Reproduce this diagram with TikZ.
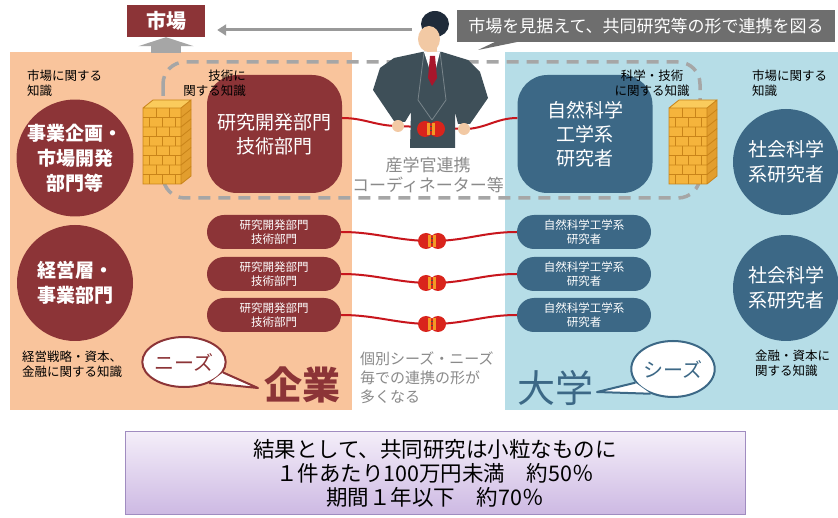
\documentclass[tikz,border=0pt]{standalone}
\usepackage{fontspec}
\setmainfont{Noto Sans CJK JP}
\usetikzlibrary{arrows.meta,shapes.geometric}

\definecolor{dkred}{HTML}{8C3437}
\definecolor{stblue}{HTML}{3C6886}
\definecolor{peach}{HTML}{F9C49C}
\definecolor{skyblue}{HTML}{B6DDE7}
\definecolor{wirered}{HTML}{C8161D}
\definecolor{plugred}{HTML}{D9241C}
\definecolor{plugorange}{HTML}{F39A25}
\definecolor{suit}{HTML}{3E4F58}
\definecolor{hair}{HTML}{1F2B3A}
\definecolor{skin}{HTML}{F2C9A4}
\definecolor{tiered}{HTML}{A8162B}
\definecolor{txtgray}{HTML}{8A8A8A}
\definecolor{sloganbg}{HTML}{6E6E6E}
\definecolor{framegray}{HTML}{A6A6A6}
\definecolor{brick}{HTML}{F5B43C}
\definecolor{bricktop}{HTML}{FACB5C}
\definecolor{brickside}{HTML}{E29E2E}
\definecolor{brickdark}{HTML}{C98419}
\definecolor{lavtop}{HTML}{F4EEF9}
\definecolor{lavbottom}{HTML}{CDB9E3}
\definecolor{lavborder}{HTML}{A08CC0}

% plug pair, centred on the origin
\newcommand{\plug}{%
    \fill[plugred] (-6,0) circle[radius=8pt];
    \fill[plugred] (6,0) circle[radius=8pt];
    \fill[plugorange] (-4,-6) rectangle (-1,6);
    \fill[plugorange] (1,-6) rectangle (4,6);
    \draw[black!70, line width=1pt] (-1,-2) -- (1,-2) (-1,2) -- (1,2);
}

% brick wall, top left corner at the origin
\newcommand{\brickwall}{%
    \fill[bricktop] (0,8) -- (10,0) -- (48,0) -- (38,8) -- cycle;
    \fill[brickside] (38,8) -- (48,0) -- (48,76) -- (38,84) -- cycle;
    \fill[brick] (0,8) rectangle (38,84);
    \foreach \row in {1,...,7}
        \draw[brickdark, line width=0.8pt] (0,8+9.5*\row) -- (38,8+9.5*\row) -- (48,9.5*\row);
    \foreach \row in {0,2,4,6}
        \foreach \col in {13,26}
            \draw[brickdark, line width=0.8pt] (\col,8+9.5*\row) -- (\col,17.5+9.5*\row);
    \foreach \row in {1,3,5,7}
        \foreach \col in {6,19,32}
            \draw[brickdark, line width=0.8pt] (\col,8+9.5*\row) -- (\col,17.5+9.5*\row);
    \draw[brickdark, line width=0.8pt] (0,8) rectangle (38,84)
        (38,8) -- (48,0) -- (48,76) -- (38,84) (0,8) -- (10,0) -- (48,0);
}

\tikzset{
    every node/.style={inner sep=0pt, align=center},
    roundbox/.style={rounded corners=30pt, minimum width=135pt, minimum height=118pt,
        text=white, font=\fontsize{19}{24}\selectfont},
    pill/.style={rounded corners=17pt, minimum width=134pt, minimum height=34pt,
        text=white, font=\fontsize{11.5}{14}\selectfont},
    bigcircle/.style={circle, minimum size=116pt, text=white,
        font=\fontsize{19}{25}\selectfont\bfseries},
    knowledge/.style={font=\fontsize{12.5}{15}\selectfont},
    wire/.style={draw=wirered, line width=2pt},
    bubble/.style={ellipse, fill=white, line width=2pt, font=\fontsize{20}{20}\selectfont},
    dashframe/.style={draw=framegray, line width=3.5pt, dash pattern=on 12pt off 8pt,
        rounded corners=22pt},
}

\begin{document}
\begin{tikzpicture}[x=1pt, y=-1pt]
    \useasboundingbox (0,0) rectangle (838,518);
    \fill[white] (0,0) rectangle (838,518);

    % company and university areas
    \fill[peach] (10,52) rectangle (352,410);
    \fill[skyblue] (505,52) rectangle (838,410);

    % the range that the coordinator links
    \draw[dashframe] (163,62) rectangle (700,198);

    % market box and the arrows towards it
    \node[fill=dkred, text=white, minimum width=78pt, minimum height=32pt,
        font=\fontsize{20}{20}\selectfont\bfseries] (market) at (166,21) {市場};
    \draw[gray!70, line width=30pt, -{Triangle[width=55pt, length=9pt]}]
        (market.south |- 0,53) -- (market.south);
    \coordinate (gaze) at (412,30);
    \draw[gray!80, line width=3pt, -{Triangle[width=11pt, length=9pt]}, shorten >=12pt]
        (gaze) -- (market.east |- gaze);

    % slogan with its tail
    \node[fill=sloganbg, text=white, minimum width=378pt, minimum height=32pt,
        font=\fontsize{17}{17}\selectfont] (slogan) at (646,26)
        {市場を見据えて、共同研究等の形で連携を図る};
    \fill[sloganbg] (497,41) -- (522,41) -- (478,50) -- cycle;

    % walls between the departments
    \begin{scope}[shift={(143,100)}]
        \brickwall
    \end{scope}
    \begin{scope}[shift={(669,100)}]
        \brickwall
    \end{scope}

    % company side
    \node[bigcircle, fill=dkred] (plan) at (75,158) {事業企画・\\市場開発\\部門等};
    \node[bigcircle, fill=dkred] (board) at (75,283) {経営層・\\事業部門};
    \node[roundbox, fill=dkred] (rd) at (274.5,134) {研究開発部門\\技術部門};
    \node[knowledge, anchor=north west, align=left] (mktknow) at (27,70) {市場に関する\\知識};
    \node[knowledge, anchor=north east, align=right] (techknow) at (246,70) {技術に\\関する知識};
    \node[knowledge, anchor=north west, align=left] (finknow) at (22,351) {経営戦略・資本、\\金融に関する知識};

    % university side
    \node[roundbox, fill=stblue] (sci) at (585,134) {自然科学\\工学系\\研究者};
    \node[bigcircle, fill=stblue, minimum size=106pt, font=\fontsize{19}{25}\selectfont]
        (soc1) at (786,162) {社会科学\\系研究者};
    \node[bigcircle, fill=stblue, minimum size=106pt, font=\fontsize{19}{25}\selectfont]
        (soc2) at (786,288) {社会科学\\系研究者};
    \node[knowledge, anchor=north] (sciknow) at (652,70) {科学・技術\\に関する知識};
    \node[knowledge, anchor=north west, align=left] (mktknow2) at (752,70) {市場に関する\\知識};
    \node[knowledge, anchor=north west, align=left] (finknow2) at (755,350) {金融・資本に\\関する知識};

    % coordinator joining the two big groups
    \coordinate (lhand) at (398,126);
    \coordinate (rhand) at (464,129);
    \draw[wire] ([yshift=16pt]rd.east) to[out=0, in=180] (lhand) -- (rhand)
        to[out=0, in=180] ([yshift=16pt]sci.west);
    \fill[suit] (422,52) -- (442,52) -- (468,60) -- (480,72) -- (488,98) -- (470,124)
        -- (458,124) -- (455,112) -- (455,148) -- (410,148) -- (411,112) -- (405,122)
        -- (394,121) -- (373,90) -- (380,68) -- (394,58) -- cycle;
    \draw[suit!70!white, line width=0.8pt] (424,52) -- (418,100) -- (432,120)
        (440,52) -- (446,100) -- (432,120);
    \fill[skin] (427,42) rectangle (437,54);
    \fill[white] (424,52) -- (440,52) -- (433,80) -- cycle;
    \fill[tiered] (430,56) -- (435,56) -- (437,78) -- (432,86) -- (428,78) -- cycle;
    \fill[hair] (435,24) ellipse[x radius=14pt, y radius=13pt];
    \fill[skin] (429,39) ellipse[x radius=11pt, y radius=13pt];
    \fill[skin] (lhand) circle[radius=6pt];
    \fill[skin] (rhand) circle[radius=6pt];
    \begin{scope}[shift={(431,129)}]
        \plug
    \end{scope}
    \node[text=txtgray, font=\fontsize{17}{20}\selectfont] (coord) at (428,175)
        {産学官連携\\コーディネーター等};

    % one small link per seed and need
    \foreach \i/\y in {1/232,2/274,3/315} {
        \node[pill, fill=dkred] (rd\i) at (274,\y) {研究開発部門\\技術部門};
        \node[pill, fill=stblue] (sci\i) at (584,\y) {自然科学工学系\\研究者};
        \coordinate (p\i) at (432,\y+9);
        \draw[wire] (rd\i.east) to[out=0, in=180] (p\i) to[out=0, in=180] (sci\i.west);
        \begin{scope}[shift={(p\i)}]
            \plug
        \end{scope}
    }
    \node[text=txtgray, anchor=north west, align=left, font=\fontsize{15}{19}\selectfont]
        (note) at (360,352) {個別シーズ・ニーズ\\毎での連携の形が\\多くなる};

    % speech bubbles
    \node[bubble, draw=dkred, text=dkred, minimum width=74pt, minimum height=50pt]
        (needs) at (184,362) {ニーズ};
    \coordinate (needtip) at (258,388);
    \fill[white] (needs.-40) -- (needtip) -- (needs.-15) -- cycle;
    \draw[dkred, line width=2pt, line join=round] (needs.-40) -- (needtip) -- (needs.-15);
    \node[text=dkred, font=\fontsize{38}{38}\selectfont\bfseries] (company) at (302,385) {企業};

    \node[bubble, draw=stblue, text=stblue, minimum width=80pt, minimum height=56pt]
        (seeds) at (673,369) {シーズ};
    \coordinate (seedtip) at (597,392);
    \fill[white] (seeds.200) -- (seedtip) -- (seeds.228) -- cycle;
    \draw[stblue, line width=2pt, line join=round] (seeds.200) -- (seedtip) -- (seeds.228);
    \node[text=stblue, font=\fontsize{38}{38}\selectfont] (univ) at (555,388) {大学};

    % result summary
    \node[draw=lavborder, line width=1pt, top color=lavtop, bottom color=lavbottom,
        minimum width=620pt, minimum height=83pt, font=\fontsize{21.5}{24}\selectfont]
        (result) at (435,473)
        {結果として、共同研究は小粒なものに\\１件あたり100万円未満　約50％\\期間１年以下　約70％};
\end{tikzpicture}
\end{document}
